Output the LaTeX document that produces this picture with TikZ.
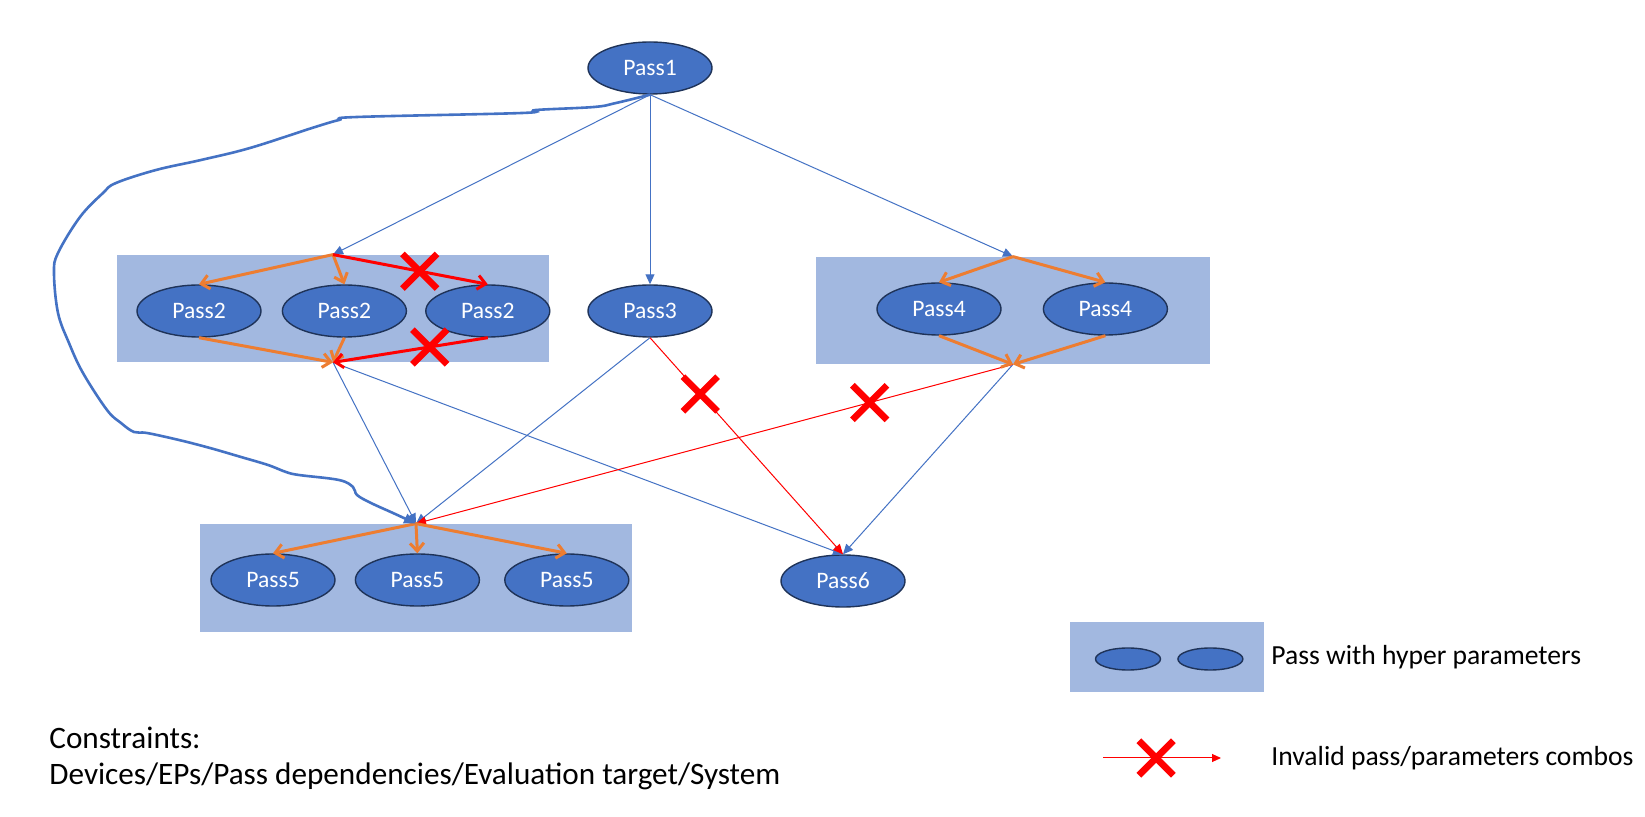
\documentclass[tikz,border=0pt]{standalone}
\usepackage{fontspec}
\setmainfont{Carlito}
\usetikzlibrary{positioning,arrows.meta,shapes.geometric,shapes.misc}
\definecolor{passblue}{HTML}{4472C4}
\definecolor{passedge}{HTML}{1F3358}
\definecolor{grpblue}{HTML}{A2B8E0}
\definecolor{hporange}{HTML}{ED7D31}

\begin{document}
\begin{tikzpicture}[
  x=0.5pt, y=-0.5pt,
  pass/.style={ellipse,draw=passedge,line width=0.7pt,fill=passblue,text=white,
               minimum width=62pt,minimum height=26pt,inner sep=0pt,
               font=\fontsize{11.8}{14}\selectfont},
  mini/.style={pass,minimum width=32.5pt,minimum height=11pt},
  grp/.style={rectangle,fill=grpblue,inner sep=0pt},
  link/.style={passblue,line width=0.5pt,-{Triangle[length=5pt,width=4.5pt]}},
  bad/.style={red,line width=0.5pt,-{Triangle[length=5pt,width=4.5pt]}},
  hp/.style={hporange,line width=1.5pt,-{Straight Barb[length=4pt,width=7pt]}},
  hpbad/.style={hp,red},
  xmark/.style={cross out,draw=red,line width=3.3pt,minimum size=14pt,inner sep=0pt},
  txt/.style={font=\fontsize{13.8}{17.8}\selectfont,inner sep=0pt},
  note/.style={font=\fontsize{15.6}{18.2}\selectfont,inner sep=0pt,align=left}
]
\fill[white] (0,0) rectangle (1645,817);

% groups of passes with hyper parameters
\node[grp,minimum width=216pt,minimum height=53.5pt] (G2) at (333,308.5) {};
\node[grp,minimum width=197pt,minimum height=53.5pt] (G4) at (1013,310.5) {};
\node[grp,minimum width=216pt,minimum height=54pt] (G5) at (416,578) {};
\node[grp,minimum width=97pt,minimum height=35pt] (L) at (1167,657) {};

\node[pass] (P1) at (650,68) {Pass1};
\node[pass] (P2a) at (199,311) {Pass2};
\node[pass,right=10pt of P2a] (P2b) {Pass2};
\node[pass,right=9pt of P2b] (P2c) {Pass2};
\node[pass] (P3) at (650,311) {Pass3};
\node[pass] (P4a) at (939,309) {Pass4};
\node[pass,right=20.5pt of P4a] (P4b) {Pass4};
\node[pass] (P5a) at (273,580) {Pass5};
\node[pass,right=9.5pt of P5a] (P5b) {Pass5};
\node[pass,right=12pt of P5b] (P5c) {Pass5};
\node[pass] (P6) at (843,581) {Pass6};

\draw[link] (P1.south) -- (G2.north);
\draw[link] (P1.south) -- (P3.north);
\draw[link] (P1.south) -- (G4.north);
\draw[link] (G2.south) -- (G5.north);
\draw[link] (G2.south) -- (P6.north);
\draw[link] (P3.south) -- (G5.north);
\draw[link] (G4.south) -- (P6.north);
\draw[bad] (P3.south) -- node[xmark,pos=0.26] (X3) {} (P6.north);
\draw[bad] (G4.south) -- node[xmark,pos=0.24] (X4) {} (G5.north);

% inside the groups
\foreach \n in {P2a,P2b}{
  \draw[hp] (G2.north) -- (\n.north);
  \draw[hp] (\n.south) -- (G2.south);
}
\draw[hpbad] (G2.north) -- node[xmark,pos=0.56] (X1) {} (P2c.north);
\draw[hpbad] (P2c.south) -- node[xmark,pos=0.375] (X2) {} (G2.south);
\foreach \n in {P4a,P4b}{
  \draw[hp] (G4.north) -- (\n.north);
  \draw[hp] (\n.south) -- (G4.south);
}
\foreach \n in {P5a,P5b,P5c}
  \draw[hp] (G5.north) -- (\n.north);

% hand drawn skip from Pass1 to Pass5
\draw[passblue,line width=1.3pt,-{Triangle[length=6pt,width=5pt]}]
  plot[smooth,tension=0.6] coordinates {(P1.south) (616,103) (594,107) (536,110)
  (522,113) (357,117) (339,120) (312,128) (250,148) (201,160) (156,170) (116,183)
  (103,193) (80,217) (58,253) (54,273) (58,313) (69,343) (83,373) (107,410)
  (121,423) (134,432) (147,433) (179,440) (210,448) (241,457) (268,465) (286,472)
  (299,475) (339,480) (353,487) (357,495) (371,503) (393,513) (G5.north)};

% legend
\node[mini] (L1) at (1128,659) {};
\node[mini,right=8pt of L1] (L2) {};
\node[txt,anchor=west] (legHP) at (1271,657) {Pass with hyper parameters};
\coordinate (legA) at (1103,758);
\coordinate (legB) at (1221,758);
\draw[bad,-{Triangle[length=4.5pt,width=4pt]}] (legA) -- node[xmark,pos=0.45] (X5) {} (legB);
\node[txt,anchor=west] (legBad) at (1271,758) {Invalid pass/parameters combos};

\node[note,anchor=west] (cons) at (49,758.5)
  {Constraints:\\Devices/EPs/Pass dependencies/Evaluation target/System};
\end{tikzpicture}
\end{document}
